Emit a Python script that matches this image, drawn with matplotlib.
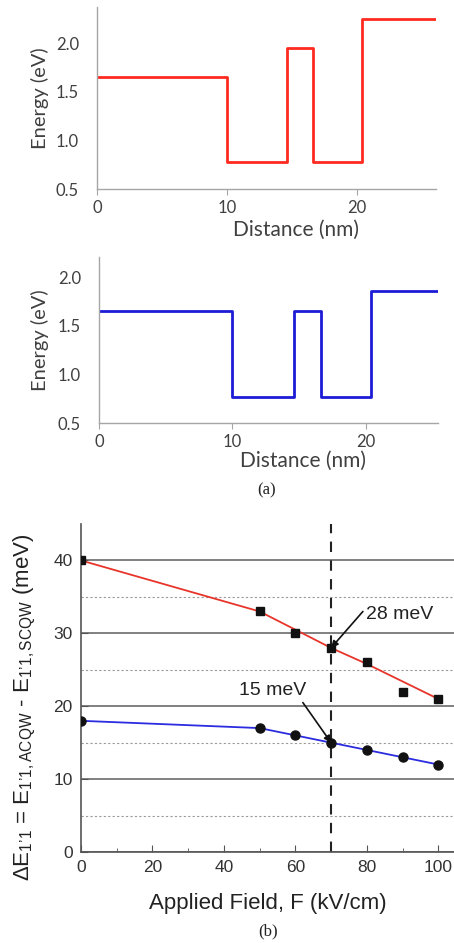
import matplotlib
matplotlib.use("Agg")
import matplotlib.pyplot as plt
from matplotlib.ticker import FixedLocator, MultipleLocator

plt.rcParams['mathtext.fontset'] = 'custom'
plt.rcParams['mathtext.rm'] = 'Liberation Sans'
plt.rcParams['mathtext.it'] = 'Liberation Sans:italic'

# ---- band-edge profiles (a) ----
acqw_x = [0, 10, 10, 14.6, 14.6, 16.6, 16.6, 20.4, 20.4, 26.1]
acqw_e = [1.65, 1.65, 0.78, 0.78, 1.95, 1.95, 0.78, 0.78, 2.25, 2.25]
scqw_x = [0, 10, 10, 14.6, 14.6, 16.6, 16.6, 20.4, 20.4, 25.4]
scqw_e = [1.65, 1.65, 0.77, 0.77, 1.65, 1.65, 0.77, 0.77, 1.86, 1.86]
profile_xticks = [0, 10, 20]
profile_yticks = [0.5, 1.0, 1.5, 2.0]

# ---- energy splitting vs applied field (b) ----
field = [0, 50, 60, 70, 80, 90, 100]
de_red = [40, 33, 30, 28, 26, 22, 21]
fit_red = [40, 33, 30.5, 28, 25.8, 23.4, 21]
de_blue = [18, 17, 16, 15, 14, 13, 12]
field_ticks = [0, 20, 40, 60, 80, 100]
de_ticks = [0, 10, 20, 30, 40]
de_minor = [5, 15, 25, 35]
f_mark = 70

W, H = 454, 943
fig = plt.figure(figsize=(W / 100, H / 100), dpi=100)


def ax_at(left, top, right, bottom):
    return fig.add_axes([left / W, 1 - bottom / H, (right - left) / W, (bottom - top) / H])


def profile_panel(ax, x, e, color, xmax, ymax):
    ax.plot(x, e, color=color, lw=2.0)
    ax.set_xlim(0, xmax)
    ax.set_ylim(0.5, ymax)
    ax.set_xticks(profile_xticks)
    ax.set_yticks(profile_yticks)
    ax.set_yticklabels([f"{v:.1f}" for v in profile_yticks])
    for s in ('top', 'right'):
        ax.spines[s].set_visible(False)
    for s in ('left', 'bottom'):
        ax.spines[s].set_color('#a6a6a6')
        ax.spines[s].set_linewidth(1.0)
    ax.tick_params(axis='x', length=4, color='#a6a6a6', labelsize=12,
                   labelcolor='#404040', pad=4)
    ax.tick_params(axis='y', length=0, labelsize=12, labelcolor='#404040', pad=13)
    for lab in ax.get_xticklabels() + ax.get_yticklabels():
        lab.set_fontfamily('Lato')


ax1 = ax_at(97, 7, 436, 189)
profile_panel(ax1, acqw_x, acqw_e, '#ff2a1f', 26.1, 2.37)
ax2 = ax_at(99, 257, 438, 423)
profile_panel(ax2, scqw_x, scqw_e, '#1c1cd6', 25.4, 2.21)

fig.text(40 / W, 1 - 98 / H, 'Energy (eV)', rotation=90, ha='center', va='center',
         fontsize=14.5, color='#404040', family='Lato')
fig.text(296 / W, 1 - 230 / H, 'Distance (nm)', ha='center', va='center',
         fontsize=15, color='#404040', family='Lato')
fig.text(40 / W, 1 - 340 / H, 'Energy (eV)', rotation=90, ha='center', va='center',
         fontsize=14.5, color='#404040', family='Lato')
fig.text(303 / W, 1 - 461 / H, 'Distance (nm)', ha='center', va='center',
         fontsize=15, color='#404040', family='Lato')
fig.text(267 / W, 1 - 490 / H, '(a)', ha='center', va='center',
         fontsize=12, color='#222222', family='Liberation Serif')

# ---- panel (b) ----
ax3 = ax_at(81, 524, 454, 852)
ax3.set_xlim(0, 104.4)
ax3.set_ylim(0, 45)
ax3.yaxis.set_minor_locator(FixedLocator(de_minor))
ax3.xaxis.set_minor_locator(MultipleLocator(10))
ax3.set_xticks(field_ticks)
ax3.set_yticks(de_ticks)
ax3.grid(True, which='major', axis='y', color='#808080', lw=1.4)
ax3.grid(True, which='minor', axis='y', color='#9a9a9a', lw=0.8, ls=(0, (2, 2)))
ax3.set_axisbelow(True)
for s in ('top', 'right'):
    ax3.spines[s].set_visible(False)
for s in ('left', 'bottom'):
    ax3.spines[s].set_color('#555555')
    ax3.spines[s].set_linewidth(1.2)
ax3.tick_params(which='major', direction='in', length=5, color='#555555',
                labelsize=12.5, labelcolor='#333333', pad=6)
ax3.tick_params(which='minor', direction='in', length=3, color='#555555')
ax3.tick_params(axis='y', which='minor', length=0)
for lab in ax3.get_xticklabels() + ax3.get_yticklabels():
    lab.set_fontfamily('Liberation Sans')

ax3.axvline(f_mark, color='#222222', lw=1.5, ls=(0, (5, 4)), zorder=2)
ax3.plot(field, fit_red, color='#e8352b', lw=1.3, zorder=3)
ax3.plot(field, de_red, ls='none', marker='s', ms=6, color='#111111', zorder=4)
ax3.plot(field, de_blue, color='#2b2be0', lw=1.3, zorder=3)
ax3.plot(field, de_blue, ls='none', marker='o', ms=6.5, color='#111111', zorder=4)

arrow = dict(arrowstyle='-|>', color='#111111', lw=1.2, mutation_scale=10,
             shrinkA=0, shrinkB=0)
ax3.annotate('', xy=(70, 28), xytext=(78.9, 33.0), arrowprops=arrow)
ax3.text(89.3, 32.6, '28 meV', ha='center', va='center', fontsize=14,
         color='#222222', family='Liberation Sans')
ax3.annotate('', xy=(70, 15), xytext=(62.1, 20.5), arrowprops=arrow)
ax3.text(53.7, 22.2, '15 meV', ha='center', va='center', fontsize=14,
         color='#222222', family='Liberation Sans')

prime = '\u2019'
fig.text(25 / W, 1 - 707 / H,
         '$\\Delta$E$_{\\mathrm{1' + prime + '1}}$ = E$_{\\mathrm{1' + prime + '1,ACQW}}$'
         ' - E$_{\\mathrm{1' + prime + '1,SCQW}}$ (meV)',
         rotation=90, ha='center', va='center', fontsize=16, color='#222222',
         family='Liberation Sans')
fig.text(268 / W, 1 - 903 / H, 'Applied Field, F (kV/cm)', ha='center', va='center',
         fontsize=16, color='#222222', family='Liberation Sans')
fig.text(268 / W, 1 - 931 / H, '(b)', ha='center', va='center',
         fontsize=12, color='#222222', family='Liberation Serif')

fig.savefig('out.png', dpi=100)
